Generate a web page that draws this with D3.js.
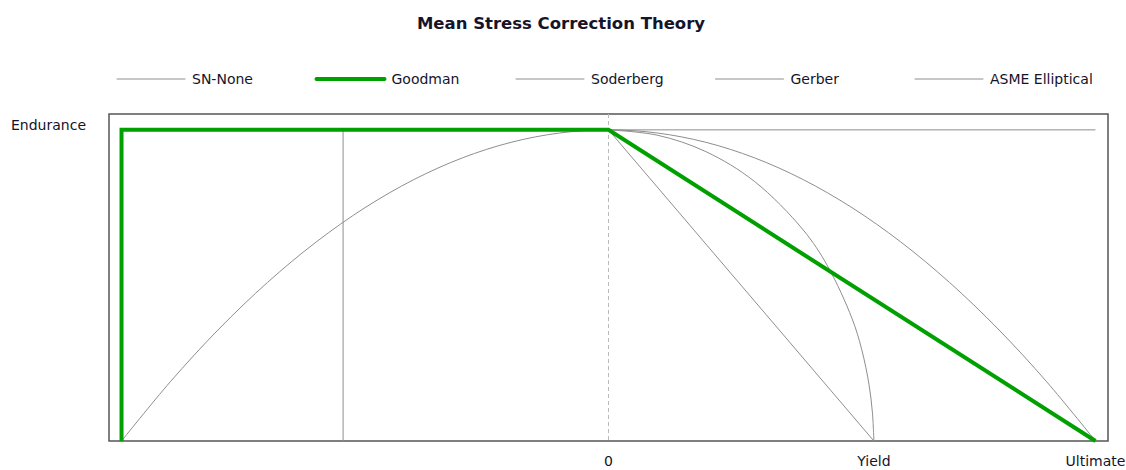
<!DOCTYPE html>
<html>
<head>
<meta charset="utf-8">
<script src="https://cdn.jsdelivr.net/npm/d3@7"></script>
<style>
  body { margin: 0; background: #fff; }
  text { font-family: "DejaVu Sans", sans-serif; fill: #14142a; }
</style>
</head>
<body>
<div id="vis"></div>
<script>
// chart values, in units of Ultimate (x) and Endurance (y)
var titleText = "Mean Stress Correction Theory";
var legendNames = ["SN-None", "Goodman", "Soderberg", "Gerber", "ASME Elliptical"];
var xTickValues = [0, 0.545, 1];
var xTickLabels = ["0", "Yield", "Ultimate"];
var yTickValues = [1];
var yTickLabels = ["Endurance"];

var snNone = [[-1, 1], [1, 1]];
var goodman = [[-1, 0], [-1, 1], [0, 1], [1, 0]];
var soderberg = [[-0.545, 0], [-0.545, 1], [0, 1], [0.545, 0]];
var gerber = [
  [-1, 0], [-0.9, 0.19], [-0.8, 0.36], [-0.7, 0.51], [-0.6, 0.64], [-0.5, 0.75],
  [-0.4, 0.84], [-0.3, 0.91], [-0.2, 0.96], [-0.1, 0.99], [0, 1],
  [0.1, 0.99], [0.2, 0.96], [0.3, 0.91], [0.4, 0.84], [0.5, 0.75],
  [0.6, 0.64], [0.7, 0.51], [0.8, 0.36], [0.9, 0.19], [1, 0]
];
var asme = [
  [0, 1], [0.1, 0.983], [0.2, 0.93], [0.3, 0.834], [0.4, 0.678], [0.45, 0.562],
  [0.5, 0.394], [0.52, 0.294], [0.535, 0.181], [0.542, 0.09], [0.545, 0]
];

var width = 1126, height = 470;
var box = { left: 109, right: 1108, top: 114, bottom: 441 };

var grey = "#8e8e8e", green = "#00a000";

var x = d3.scaleLinear().domain([-1.0257, 1.0257]).range([box.left, box.right]);
var y = d3.scaleLinear().domain([0, 1.051]).range([box.bottom, box.top]);

var svg = d3.select("#vis").append("svg")
  .attr("width", width)
  .attr("height", height);

// title
svg.append("text")
  .attr("x", 561).attr("y", 29)
  .attr("text-anchor", "middle")
  .style("font-size", "16.5px")
  .style("font-weight", "bold")
  .text(titleText);

// legend
var legendStyles = [
  { color: grey, w: 1 }, { color: green, w: 4 }, { color: grey, w: 1 },
  { color: grey, w: 1 }, { color: grey, w: 1 }
];
var legend = svg.append("g").selectAll("g")
  .data(legendNames)
  .enter().append("g")
  .attr("transform", function(d, i) { return "translate(" + (117 + i * 199.5) + ",79)"; });

legend.append("line")
  .attr("x1", 0).attr("x2", 68)
  .attr("stroke", function(d, i) { return legendStyles[i].color; })
  .attr("stroke-width", function(d, i) { return legendStyles[i].w; })
  .attr("stroke-linecap", "round");

legend.append("text")
  .attr("x", 75).attr("y", 5)
  .style("font-size", "14px")
  .text(function(d) { return d; });

// plot frame
svg.append("rect")
  .attr("x", box.left).attr("y", box.top)
  .attr("width", box.right - box.left)
  .attr("height", box.bottom - box.top)
  .attr("fill", "none")
  .attr("stroke", "#555")
  .attr("stroke-width", 1.5);

// zero line
svg.append("line")
  .attr("x1", x(0)).attr("x2", x(0))
  .attr("y1", box.top).attr("y2", box.bottom)
  .attr("stroke", "#bbb")
  .attr("stroke-dasharray", "4,3");

// axis labels
svg.append("g").selectAll("text")
  .data(xTickValues)
  .enter().append("text")
  .attr("x", function(d) { return x(d); })
  .attr("y", 466)
  .attr("text-anchor", "middle")
  .style("font-size", "14px")
  .text(function(d, i) { return xTickLabels[i]; });

svg.append("g").selectAll("text")
  .data(yTickValues)
  .enter().append("text")
  .attr("x", 11)
  .attr("y", function(d) { return y(d); })
  .style("font-size", "14px")
  .text(function(d, i) { return yTickLabels[i]; });

var straight = d3.line()
  .x(function(d) { return x(d[0]); })
  .y(function(d) { return y(d[1]); });

var curved = d3.line()
  .curve(d3.curveCatmullRom.alpha(0.5))
  .x(function(d) { return x(d[0]); })
  .y(function(d) { return y(d[1]); });

var plot = svg.append("g");

plot.append("path").datum(snNone).attr("d", straight)
  .attr("fill", "none").attr("stroke", grey).attr("stroke-width", 1);
plot.append("path").datum(soderberg).attr("d", straight)
  .attr("fill", "none").attr("stroke", grey).attr("stroke-width", 1);
plot.append("path").datum(gerber).attr("d", curved)
  .attr("fill", "none").attr("stroke", grey).attr("stroke-width", 1);
plot.append("path").datum(asme).attr("d", curved)
  .attr("fill", "none").attr("stroke", grey).attr("stroke-width", 1);
plot.append("path").datum(goodman).attr("d", straight)
  .attr("fill", "none").attr("stroke", green).attr("stroke-width", 4)
  .attr("stroke-linejoin", "miter");
</script>
</body>
</html>
